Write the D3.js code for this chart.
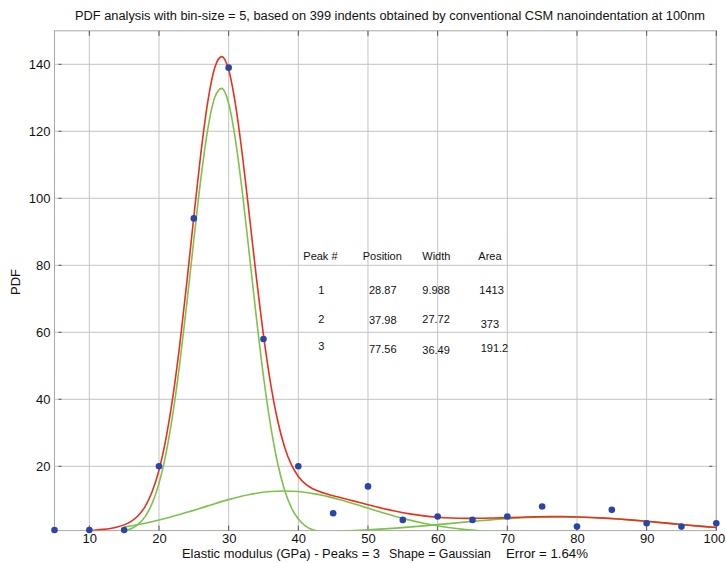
<!DOCTYPE html>
<html>
<head>
<meta charset="utf-8">
<script src="https://cdn.jsdelivr.net/npm/d3@7"></script>
<style>
  html, body { margin: 0; padding: 0; background: #fff; }
  svg { display: block; font-family: "Liberation Sans", Arial, Helvetica, sans-serif; }
</style>
</head>
<body>
<svg id="chart" width="726" height="563"></svg>
<script>
// ---------------- data ----------------
const titleText = "PDF analysis with bin-size = 5, based on 399 indents obtained by conventional CSM nanoindentation at 100nm";
const xLabelParts = ["Elastic modulus (GPa) - Peaks = 3", "Shape = Gaussian", "Error = 1.64%"];
const yLabelText = "PDF";

const xTicks = [10, 20, 30, 40, 50, 60, 70, 80, 90, 100];
const yTicks = [20, 40, 60, 80, 100, 120, 140];

// histogram bin centres and PDF values (blue dots)
const binCenters = [5, 10, 15, 20, 25, 30, 35, 40, 45, 50, 55, 60, 65, 70, 75, 80, 85, 90, 95, 100];
const binPDF     = [1, 1, 1, 20, 94, 139, 58, 20, 6, 14, 4, 5, 4, 5, 8, 2, 7, 3, 2, 3];

// peak 1 (green, narrow)
const peak1X = [15, 16, 17, 18, 19, 20, 21, 22, 23, 24, 25, 26, 27, 28, 29, 30, 31, 32, 33, 34, 35, 36, 37, 38, 39, 40, 41, 42, 43];
const peak1Y = [0.63, 1.33, 2.65, 4.98, 8.86, 14.9, 23.8, 35.8, 51.0, 68.7, 87.6, 105.7, 120.6, 130.1, 132.8, 128.3, 117.1, 101.2, 82.7, 64.0, 46.8, 32.4, 21.2, 13.1, 7.67, 4.25, 2.23, 1.10, 0.52];

// peak 2 (green, broad)
const peak2X = [15, 18, 21, 24, 27, 30, 33, 36, 38, 40, 43, 46, 49, 52, 55, 58, 61, 64, 66];
const peak2Y = [1.88, 2.99, 4.47, 6.25, 8.18, 10.05, 11.56, 12.46, 12.64, 12.46, 11.54, 10.02, 8.16, 6.22, 4.45, 2.98, 1.87, 1.10, 0.74];

// peak 3 (green, far right)
const peak3X = [46, 50, 54, 58, 62, 66, 70, 74, 78, 82, 86, 90, 94, 98, 100];
const peak3Y = [0.62, 1.01, 1.55, 2.22, 2.97, 3.73, 4.37, 4.79, 4.92, 4.72, 4.24, 3.57, 2.80, 2.06, 1.72];

// overall fit (red)
const fitX = [10, 11, 12, 13, 14, 15, 16, 17, 18, 19, 20, 21, 22, 23, 24, 25, 26, 27, 28, 29, 30, 31, 32, 33, 34, 35, 36, 37, 38, 39, 40, 41, 42, 43, 44,
              46, 48, 50, 52, 54, 56, 58, 60, 62, 64, 66, 68, 70, 72, 74, 76, 78, 80, 82, 84, 86, 88, 90, 92, 94, 96, 98, 100];
const fitY = [0.76, 0.94, 1.16, 1.45, 1.87, 2.51, 3.54, 5.23, 7.97, 12.31, 18.85, 28.28, 40.84, 56.64, 74.96, 94.5, 113.25, 128.8, 138.96, 142.29,
              138.4, 127.76, 112.38, 94.34, 76.04, 59.16, 45.0, 33.96, 25.93, 20.48, 16.97, 14.76, 13.37, 12.47, 11.79,
              10.68, 9.60, 8.52, 7.48, 6.56, 5.79, 5.20, 4.79, 4.55, 4.45, 4.47, 4.56, 4.68, 4.80, 4.91, 4.97, 4.96, 4.88, 4.73, 4.51, 4.24, 3.92, 3.57, 3.19, 2.80, 2.42, 2.06, 1.72];

// parameter table
const tableHeader = ["Peak #", "Position", "Width", "Area"];
const tableRows = [
  ["1", "28.87", "9.988", "1413"],
  ["2", "37.98", "27.72", "373"],
  ["3", "77.56", "36.49", "191.2"]
];

// ---------------- layout ----------------
const pL = 54.5, pR = 716.3, pT = 30.8, pB = 530.6;
const svg = d3.select("#chart");

const x = d3.scaleLinear().domain([5, 100]).range([pL, pR]);
const y = d3.scaleLinear().domain([0.8, 150]).range([pB, pT]);

const gridColor = "#c4c4c4";
const boxColor = "#a8a8a8";

// grid
const grid = svg.append("g");
grid.selectAll("line.vx").data(xTicks).join("line")
  .attr("x1", d => x(d)).attr("x2", d => x(d))
  .attr("y1", pT).attr("y2", pB)
  .attr("stroke", gridColor).attr("stroke-width", 1);
grid.selectAll("line.hy").data(yTicks).join("line")
  .attr("x1", pL).attr("x2", pR)
  .attr("y1", d => y(d)).attr("y2", d => y(d))
  .attr("stroke", gridColor).attr("stroke-width", 1);

// box
svg.append("rect")
  .attr("x", pL).attr("y", pT)
  .attr("width", pR - pL).attr("height", pB - pT)
  .attr("fill", "none").attr("stroke", boxColor).attr("stroke-width", 1);

// axes via d3 axis generators
const xAxis = d3.axisBottom(x).tickValues(xTicks).tickSize(0).tickPadding(3).tickFormat(d3.format("d"));
const gx = svg.append("g").attr("transform", `translate(0,${pB})`).call(xAxis);
gx.select(".domain").remove();
gx.selectAll("text").attr("font-size", 13).attr("fill", "#111").attr("font-family", "Liberation Sans, Arial, sans-serif");
// keep the last label inside the window
gx.selectAll("text").filter(d => d === 100).attr("dx", -2.5);

const yAxis = d3.axisLeft(y).tickValues(yTicks).tickSize(0).tickPadding(4).tickFormat(d3.format("d"));
const gy = svg.append("g").attr("transform", `translate(${pL},0)`).call(yAxis);
gy.select(".domain").remove();
gy.selectAll("text").attr("font-size", 13).attr("fill", "#111").attr("font-family", "Liberation Sans, Arial, sans-serif");

// small inward tick marks on all four sides
const tk = svg.append("g").attr("stroke", "#555").attr("stroke-width", 1);
tk.selectAll("line.tt").data(xTicks).join("line")
  .attr("x1", d => x(d)).attr("x2", d => x(d)).attr("y1", pT).attr("y2", pT + 5);
tk.selectAll("line.tb").data(xTicks).join("line")
  .attr("x1", d => x(d)).attr("x2", d => x(d)).attr("y1", pB - 5).attr("y2", pB);
tk.selectAll("line.tl").data(yTicks).join("line")
  .attr("x1", pL + 4).attr("x2", pL + 7).attr("y1", d => y(d)).attr("y2", d => y(d));
tk.selectAll("line.tr").data(yTicks).join("line")
  .attr("x1", pR - 7).attr("x2", pR - 4).attr("y1", d => y(d)).attr("y2", d => y(d));

// clip
svg.append("clipPath").attr("id", "plotclip")
  .append("rect").attr("x", pL).attr("y", pT).attr("width", pR - pL).attr("height", pB - pT);

const line = d3.line().x(d => x(d[0])).y(d => y(d[1])).curve(d3.curveMonotoneX);
const zip = (a, b) => a.map((v, i) => [v, b[i]]);

const curves = svg.append("g").attr("clip-path", "url(#plotclip)");
const green = "#7dc24a", red = "#e8301c";
[[peak1X, peak1Y], [peak2X, peak2Y], [peak3X, peak3Y]].forEach(([px, py]) => {
  curves.append("path").attr("d", line(zip(px, py)))
    .attr("fill", "none").attr("stroke", green).attr("stroke-width", 1.6);
});
curves.append("path").attr("d", line(zip(fitX, fitY)))
  .attr("fill", "none").attr("stroke", red).attr("stroke-width", 1.6);

// dots
svg.append("g").selectAll("circle").data(zip(binCenters, binPDF)).join("circle")
  .attr("cx", d => x(d[0])).attr("cy", d => y(d[1]))
  .attr("r", 3.3).attr("fill", "#2a45a8");

// table
const colX = [303.3, 362.7, 422.3, 478.3];
const headerY = 260;
svg.append("g").selectAll("text").data(tableHeader).join("text")
  .attr("x", (d, i) => colX[i]).attr("y", headerY)
  .attr("font-size", 11).attr("fill", "#111").text(d => d);

const cellX = [318.3, 369, 422.3, 479.3];
const cellY = [
  [294.3, 294.3, 293.5, 294.3],
  [323.3, 324, 323.3, 327.7],
  [350, 352.7, 354, 352.3]
];
const tb = svg.append("g");
tableRows.forEach((row, r) => {
  tb.append("g").selectAll("text").data(row).join("text")
    .attr("x", (d, i) => cellX[i] + (r > 0 && i === 3 ? 1.4 : 0))
    .attr("y", (d, i) => cellY[r][i])
    .attr("font-size", 11).attr("fill", "#111").text(d => d);
});

// title
svg.append("text").attr("x", 75).attr("y", 20)
  .attr("font-size", 12.5).attr("fill", "#111")
  .attr("textLength", 630).attr("lengthAdjust", "spacingAndGlyphs")
  .text(titleText);

// x label
const xl = svg.append("text").attr("y", 558).attr("font-size", 12.5).attr("fill", "#111");
const partX = [182, 389, 506];
const partW = [198, 102, 82];
xLabelParts.forEach((t, i) => {
  xl.append("tspan").attr("x", partX[i]).attr("textLength", partW[i]).attr("lengthAdjust", "spacingAndGlyphs").text(t);
});

// y label
svg.append("text")
  .attr("transform", "translate(20,282) rotate(-90)")
  .attr("text-anchor", "middle").attr("font-size", 13).attr("fill", "#111")
  .text(yLabelText);
</script>
</body>
</html>
